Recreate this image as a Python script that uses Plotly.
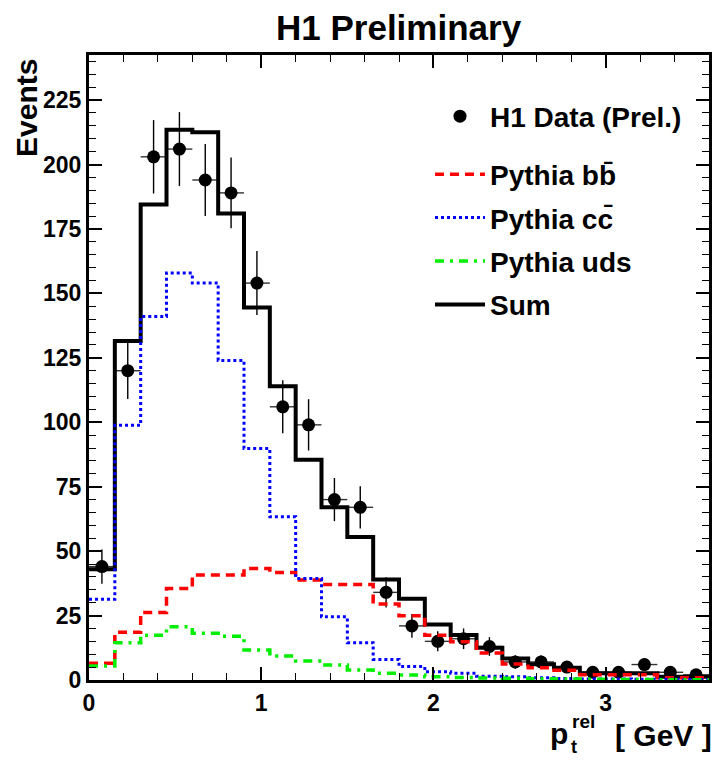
import numpy as np
import plotly.graph_objects as go

# ---------------- data ----------------
bin_width = 0.15
bin_edges = [round(i * 0.15, 2) for i in range(25)]  # 0.00 ... 3.60
bin_centers = [round(e + 0.075, 3) for e in bin_edges[:-1]]

data_counts = [44, 120, 203, 206, 194, 189, 154, 106, 99, 70, 67, 34,
               21, 15, 16, 13, 7, 7, 5, 3, 3, 6, 3, 2]
data_errors = [float(np.sqrt(v)) for v in data_counts]

pythia_bb = [6.5, 18.5, 26.2, 35.5, 40.7, 40.7, 43.3, 41.7, 38.8, 37.1, 37.1, 29.5,
             24.9, 17.4, 14.8, 10.5, 6.2, 4.8, 3.8, 2.0, 2.0, 2.0, 0.9, 0.9]
pythia_cc = [31.3, 98.8, 141.0, 157.9, 154.0, 124.0, 89.8, 63.3, 39.4, 24.5, 14.5, 8.0,
             5.2, 3.2, 2.6, 1.5, 1.3, 0.9, 0.6, 0.4, 0.4, 0.3, 0.3, 0.2]
pythia_uds = [5.4, 14.5, 17.4, 20.7, 18.1, 17.0, 11.6, 9.3, 7.4, 5.8, 3.9, 2.6,
              1.9, 1.3, 1.0, 0.8, 0.7, 0.5, 0.4, 0.3, 0.2, 0.2, 0.1, 0.1]
sum_mc = [43.0, 131.5, 184.5, 213.5, 212.5, 181.0, 144.5, 114.0, 85.5, 67.0, 55.5, 39.0,
          31.5, 21.5, 17.5, 12.5, 8.3, 6.1, 4.8, 2.6, 2.6, 2.6, 1.3, 1.3]

x_ticks = [0, 1, 2, 3]
y_ticks = [0, 25, 50, 75, 100, 125, 150, 175, 200, 225]

FONT = "Liberation Sans, Arial, Helvetica, sans-serif"


def step(vals):
    return bin_edges, list(vals) + [vals[-1]]


fig = go.Figure()

# data points
fig.add_trace(go.Scatter(
    x=bin_centers, y=data_counts, mode="markers", name="H1 Data (Prel.)",
    marker=dict(color="black", size=13, symbol="circle"),
    error_y=dict(type="data", array=data_errors, color="black", thickness=1.4, width=0),
    error_x=dict(type="constant", value=bin_width / 2, color="#333333", thickness=1.4, width=0),
    legend="legend",
))

sx, sy = step(sum_mc)
fig.add_trace(go.Scatter(x=sx, y=sy, mode="lines", line_shape="hv", name="Sum",
                         line=dict(color="black", width=4), legendrank=5, legendgroup="e",
                         legend="legend2"))
bx, by = step(pythia_bb)
fig.add_trace(go.Scatter(x=bx, y=by, mode="lines", line_shape="hv", name="Pythia bb\u0304",
                         line=dict(color="#ff0000", width=3.5, dash="9px,6px"),
                         legendrank=2, legendgroup="b", legend="legend2"))
cx, cy = step(pythia_cc)
fig.add_trace(go.Scatter(x=cx, y=cy, mode="lines", line_shape="hv", name="Pythia cc\u0304",
                         line=dict(color="#0000ff", width=3, dash="3px,3px"),
                         legendrank=3, legendgroup="c", legend="legend2"))
ux, uy = step(pythia_uds)
fig.add_trace(go.Scatter(x=ux, y=uy, mode="lines", line_shape="hv", name="Pythia uds",
                         line=dict(color="#00ee00", width=3.5, dash="9px,6px,3px,6px"),
                         legendrank=4, legendgroup="d", legend="legend2"))

axis_common = dict(
    showline=True, linecolor="black", linewidth=3, mirror="ticks",
    ticks="inside", ticklen=13, tickwidth=1.5, tickcolor="black",
    showgrid=False, zeroline=False,
    tickfont=dict(family=FONT, size=23, color="black", weight="bold"),
)

fig.update_xaxes(range=[0, 3.6], tickvals=x_ticks, ticktext=[str(t) for t in x_ticks],
                 minor=dict(ticks="inside", ticklen=7, tickwidth=1.2, tickcolor="black", dtick=0.2,
                            tick0=0, showgrid=False),
                 **axis_common)
fig.update_yaxes(range=[0, 242.5], tickvals=y_ticks, ticktext=[str(t) for t in y_ticks],
                 minor=dict(ticks="inside", ticklen=7, tickwidth=1.2, tickcolor="black", dtick=5,
                            tick0=0, showgrid=False),
                 **axis_common)


def label(text, xshift, yshift, size, xanchor="center", x=1.0, y=0.0, angle=0):
    return dict(text=text, x=x, xshift=xshift, y=y, yshift=yshift, xref="paper", yref="paper",
                xanchor=xanchor, yanchor="middle", showarrow=False, borderpad=0,
                textangle=angle, font=dict(family=FONT, size=size, color="black", weight="bold"))


annots = [
    label("H1 Preliminary", 0, 28, 35, x=0.5, y=1.0),
    label("Events", -63, -53, 30, x=0.0, y=1.0, angle=-90),
    label("[ GeV ]", 4, -55, 30, xanchor="right"),
    label("p", -150, -53, 30),
    label("rel", -126, -41, 19),
    label("t", -135, -67, 18),
]

legend_font = dict(family=FONT, size=28, color="black", weight="bold")

fig.update_layout(
    width=716, height=760,
    margin=dict(l=89, r=4, t=55, b=80),
    paper_bgcolor="white", plot_bgcolor="white",
    font=dict(family=FONT, color="black"),
    showlegend=True,
    legend=dict(x=0.55, y=0.9416, xanchor="left", yanchor="top",
                bgcolor="rgba(0,0,0,0)", borderwidth=0, font=legend_font, itemwidth=50),
    legend2=dict(x=0.55, y=0.8488, xanchor="left", yanchor="top",
                 bgcolor="rgba(0,0,0,0)", borderwidth=0, font=legend_font, itemwidth=50,
                 tracegroupgap=4, traceorder="grouped"),
    annotations=annots,
)

fig.write_html("out.html")
